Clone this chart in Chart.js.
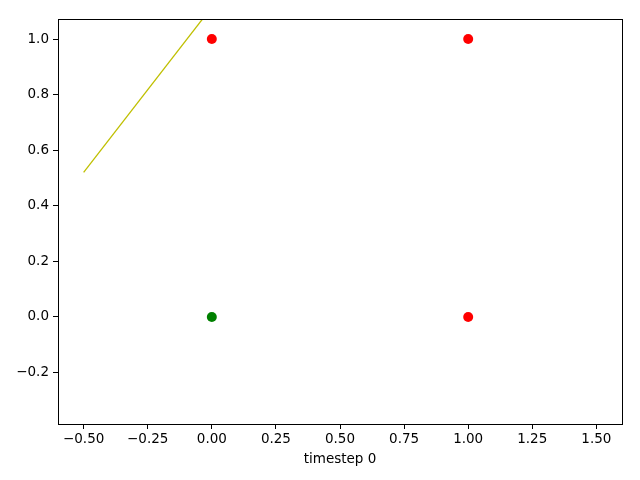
<!DOCTYPE html>
<html>
<head>
<meta charset="utf-8">
<script src="https://cdn.jsdelivr.net/npm/chart.js@4.4.0/dist/chart.umd.min.js"></script>
<style>
  html, body { margin: 0; padding: 0; background: #fff; }
  #wrap { width: 640px; height: 480px; }
</style>
</head>
<body>
<div id="wrap"><canvas id="c" width="640" height="480"></canvas></div>
<script>
// data
const redX = [0, 1, 1];
const redY = [1, 1, 0];
const greenX = [0];
const greenY = [0];
const lineX = [-0.5, 0.0];
const lineY = [0.52, 1.115];
const xTicks = [-0.5, -0.25, 0, 0.25, 0.5, 0.75, 1.0, 1.25, 1.5];
const yTicks = [-0.2, 0, 0.2, 0.4, 0.6, 0.8, 1.0];

const pts = (xs, ys) => xs.map((x, i) => ({ x: x, y: ys[i] }));
const minus = s => s.replace('-', '\u2212');

// matplotlib style frame round the plot area
const frame = {
    id: 'frame',
    afterDatasetsDraw(chart) {
        const a = chart.chartArea, ctx = chart.ctx;
        ctx.save();
        ctx.strokeStyle = '#000';
        ctx.lineWidth = 1;
        ctx.strokeRect(Math.round(a.left) + 0.5, Math.round(a.top) + 0.5,
            Math.round(a.right - a.left), Math.round(a.bottom - a.top));
        ctx.restore();
    }
};

const font = { family: 'DejaVu Sans', size: 13.5 };

new Chart(document.getElementById('c').getContext('2d'), {
    type: 'scatter',
    data: {
        datasets: [
            {
                type: 'line',
                data: pts(lineX, lineY),
                borderColor: '#bfbf00',
                borderWidth: 1.3,
                pointRadius: 0,
                fill: false
            },
            {
                data: pts(redX, redY),
                backgroundColor: '#ff0000',
                borderWidth: 0,
                pointRadius: 5
            },
            {
                data: pts(greenX, greenY),
                backgroundColor: '#008000',
                borderWidth: 0,
                pointRadius: 5
            }
        ]
    },
    plugins: [frame],
    options: {
        responsive: false,
        animation: false,
        layout: { padding: { left: 0, right: 18, top: 19, bottom: 0 } },
        plugins: { legend: { display: false }, tooltip: { enabled: false } },
        scales: {
            x: {
                type: 'linear',
                min: -0.6,
                max: 1.6,
                afterBuildTicks: s => { s.ticks = xTicks.map(v => ({ value: v })); },
                afterFit: s => { s.height = 56; },
                ticks: {
                    color: '#000',
                    font: font,
                    padding: 2,
                    maxRotation: 0,
                    autoSkip: false,
                    callback: v => minus(v.toFixed(2))
                },
                grid: { drawOnChartArea: false, drawTicks: true, tickLength: 5, color: '#000' },
                border: { color: '#000' },
                title: { display: true, text: 'timestep 0', color: '#000', font: font, padding: { top: 2, bottom: 12 } }
            },
            y: {
                type: 'linear',
                min: -0.385,
                max: 1.072,
                afterBuildTicks: s => { s.ticks = yTicks.map(v => ({ value: v })); },
                afterFit: s => { s.width = 58; },
                ticks: {
                    color: '#000',
                    font: font,
                    padding: 4,
                    autoSkip: false,
                    callback: v => minus(v.toFixed(1))
                },
                grid: { drawOnChartArea: false, drawTicks: true, tickLength: 5, color: '#000' },
                border: { color: '#000' }
            }
        }
    }
});
</script>
</body>
</html>
